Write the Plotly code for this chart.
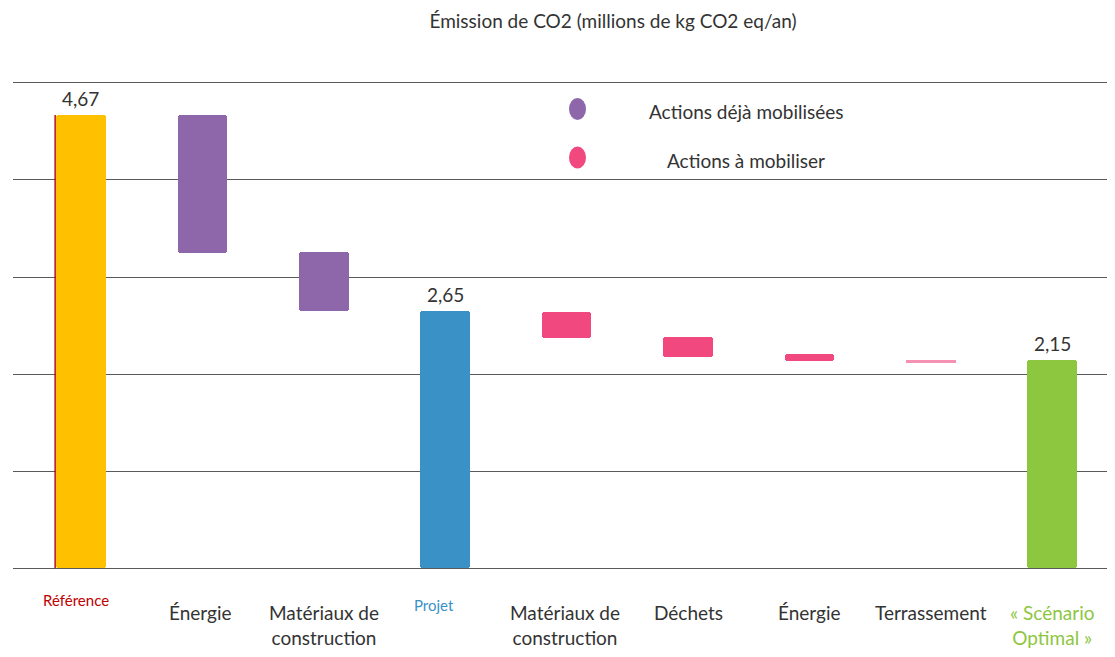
import plotly.graph_objects as go

# ---- data ----
categories = ["Référence", "Énergie", "Matériaux de<br>construction", "Projet",
              "Matériaux de<br>construction", "Déchets", "Énergie", "Terrassement",
              "« Scénario<br>Optimal »"]
bar_low = [0.0, 3.25, 2.65, 0.0, 2.37, 2.18, 2.13, 2.115, 0.0]
bar_high = [4.67, 4.67, 3.26, 2.65, 2.64, 2.385, 2.205, 2.15, 2.15]
total_labels = {0: "4,67", 3: "2,65", 8: "2,15"}
bar_colors = ["#FFC000", "#8E67AB", "#8E67AB", "#3A91C6", "#F0487F", "#F0487F",
              "#F0487F", "#F592B4", "#8DC63F"]
label_colors = ["#C00000", "#333333", "#333333", "#3A91C6", "#333333", "#333333",
                "#333333", "#333333", "#8DC63F"]
label_sizes = [15, 19, 19, 15, 19, 19, 19, 19, 19]
label_shift = [-32, -44, -57, -37, -57, -44, -44, -44, -57]
label_xshift = [-5, -2, 0, -11, -2, 0, 0, 0, 0]
legend_items = ["Actions déjà mobilisées", "Actions à mobiliser"]
legend_colors = ["#8E67AB", "#F0487F"]
title = "Émission de CO2 (millions de kg CO2 eq/an)"

FONT = "Lato, 'Open Sans', sans-serif"
OFF = 8                      # page body margin
W, H = 1115 - OFF, 657 - OFF
L, R, T, B = 5, 5, 72, 83
YR = [-0.06, 5.03]

def px_x(p):
    return (p - OFF - L) / (W - L - R)

def px_y(p):
    return ((H - B) - (p - OFF)) / (H - B - T)

x = list(range(len(categories)))
heights = [h - l for h, l in zip(bar_high, bar_low)]

fig = go.Figure()
fig.add_trace(go.Bar(
    x=x, y=heights, base=bar_low, width=0.41,
    marker=dict(color=bar_colors, line=dict(width=0), cornerradius=3),
    hoverinfo="skip", showlegend=False,
))

annotations = []
for i, cat in enumerate(categories):
    annotations.append(dict(
        x=i, y=0, xref="x", yref="y", text=cat, showarrow=False,
        yanchor="middle", xanchor="center", yshift=label_shift[i],
        xshift=label_xshift[i],
        font=dict(family=FONT, size=label_sizes[i], color=label_colors[i]),
    ))
for i, txt in total_labels.items():
    annotations.append(dict(
        x=i, y=bar_high[i], xref="x", yref="y", text=txt, showarrow=False,
        yanchor="bottom", xanchor="center", yshift=3,
        font=dict(family=FONT, size=19, color="#333333"),
    ))

shapes = []
leg_centers = [109, 157.5]
for k, (name, col) in enumerate(zip(legend_items, legend_colors)):
    cy = leg_centers[k]
    shapes.append(dict(
        type="circle", xref="paper", yref="paper",
        x0=px_x(569), x1=px_x(586), y0=px_y(cy + 11), y1=px_y(cy - 11),
        fillcolor=col, line=dict(width=0),
    ))
    annotations.append(dict(
        x=px_x(746), y=px_y(cy + 3), xref="paper", yref="paper", text=name,
        showarrow=False, xanchor="center", yanchor="middle",
        font=dict(family=FONT, size=19, color="#333333"),
    ))

# thin red edge on the reference bar
shapes.append(dict(
    type="line", xref="x", yref="y", x0=-0.213, x1=-0.213, y0=0, y1=bar_high[0],
    line=dict(color="#B01020", width=1.5), layer="above",
))

fig.update_layout(
    width=W, height=H,
    margin=dict(l=L, r=R, t=T, b=B),
    plot_bgcolor="white", paper_bgcolor="white",
    title=dict(text=title, xref="container", yref="container",
               x=(613 - OFF) / W, y=1 - (21 - OFF) / H,
               xanchor="center", yanchor="middle",
               font=dict(family=FONT, size=19, color="#333333")),
    xaxis=dict(range=[-0.56, 8.476], showticklabels=False, showgrid=False,
               zeroline=False, showline=False, ticks=""),
    yaxis=dict(range=YR, showticklabels=False, showgrid=True,
               gridcolor="#5a5a5a", gridwidth=1, tickvals=[0, 1, 2, 3, 4, 5],
               zeroline=False, showline=False, ticks=""),
    annotations=annotations, shapes=shapes,
    bargap=0, showlegend=False,
)

fig.write_html("out.html")
